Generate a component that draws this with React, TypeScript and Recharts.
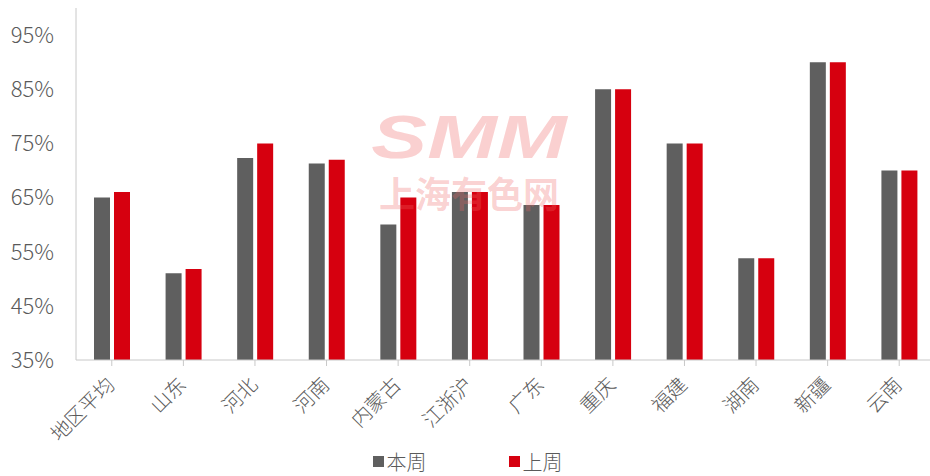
import React from "react";
import { Bar, BarChart, CartesianGrid, Legend, XAxis, YAxis } from "recharts";

// regions and weekly utilisation (%)
const REGIONS = ["地区平均", "山东", "河北", "河南", "内蒙古", "江浙沪", "广东", "重庆", "福建", "湖南", "新疆", "云南"];
const THIS_WEEK = [65, 51, 72.3, 71.3, 60, 66, 63.6, 85, 75, 53.8, 90, 70];
const LAST_WEEK = [66, 51.8, 75, 72, 65, 66, 63.6, 85, 75, 53.8, 90, 70];
const Y_TICKS = [35, 45, 55, 65, 75, 85, 95];

const GRAY = "#5f5f5f";
const RED = "#d6000f";
const AXIS = "#c8c8c8";
const TEXT = "#5a5a5a";
const FONT = '"Noto Sans CJK SC", "Noto Sans", sans-serif';
const MARK = "rgba(240,100,100,0.3)";

const data = REGIONS.map((region, i) => ({
  region,
  thisWeek: THIS_WEEK[i],
  lastWeek: LAST_WEEK[i],
}));

const SERIES = [
  { key: "thisWeek", name: "本周", color: GRAY },
  { key: "lastWeek", name: "上周", color: RED },
];

function AngledTick({ x, y, payload }: any) {
  return (
    <text
      x={x + 4}
      y={y + 18}
      transform={`rotate(-45, ${x + 4}, ${y + 18})`}
      textAnchor="end"
      fill={TEXT}
      fontSize={20}
      fontFamily={FONT}
      fontWeight={300}
    >
      {payload.value}
    </text>
  );
}

function LegendBox() {
  return (
    <div style={{ display: "flex", justifyContent: "center", gap: 82, fontFamily: FONT, fontSize: 20, color: TEXT, fontWeight: 300 }}>
      {SERIES.map((s) => (
        <span key={s.key} style={{ display: "inline-flex", alignItems: "center" }}>
          <span style={{ width: 11, height: 11, background: s.color, display: "inline-block", marginRight: 3 }} />
          {s.name}
        </span>
      ))}
    </div>
  );
}

export default function App() {
  return (
    <div style={{ position: "relative", width: 930, height: 476, overflow: "hidden", background: "#fff" }}>
      <style>{"body{margin:0}"}</style>
      <BarChart
        width={940}
        height={476}
        data={data}
        margin={{ top: 8, right: 5, left: 0, bottom: 0 }}
        barGap={4}
        barCategoryGap="25%"
      >
        <CartesianGrid stroke="none" />
        <XAxis
          dataKey="region"
          interval={0}
          stroke={AXIS}
          tickLine={{ stroke: AXIS }}
          tickSize={6}
          height={87}
          tick={<AngledTick />}
        />
        <YAxis
          domain={[35, 100]}
          ticks={Y_TICKS}
          allowDataOverflow
          width={76}
          stroke={AXIS}
          tickLine={false}
          tickMargin={16}
          tickFormatter={(v) => `${v}%`}
          tick={{ fill: TEXT, fontSize: 22, fontFamily: FONT, fontWeight: 300 }}
        />
        <Legend verticalAlign="bottom" content={() => <LegendBox />} />
        {SERIES.map((s) => (
          <Bar key={s.key} dataKey={s.key} name={s.name} fill={s.color} barSize={16} isAnimationActive={false} />
        ))}
      </BarChart>
      {/* SMM watermark */}
      <div
        style={{
          position: "absolute",
          left: 362,
          top: 103,
          width: 214,
          textAlign: "center",
          color: MARK,
          fontFamily: '"Liberation Sans", Arial, sans-serif',
          fontSize: 62,
          fontWeight: 700,
          fontStyle: "italic",
          lineHeight: 1.1,
          pointerEvents: "none",
          transform: "scaleX(1.35)",
        }}
      >
        SMM
      </div>
      <div
        style={{
          position: "absolute",
          left: 362,
          top: 174,
          width: 214,
          textAlign: "center",
          color: MARK,
          fontFamily: FONT,
          fontSize: 36,
          fontWeight: 700,
          lineHeight: 1,
          pointerEvents: "none",
        }}
      >
        上海有色网
      </div>
    </div>
  );
}
